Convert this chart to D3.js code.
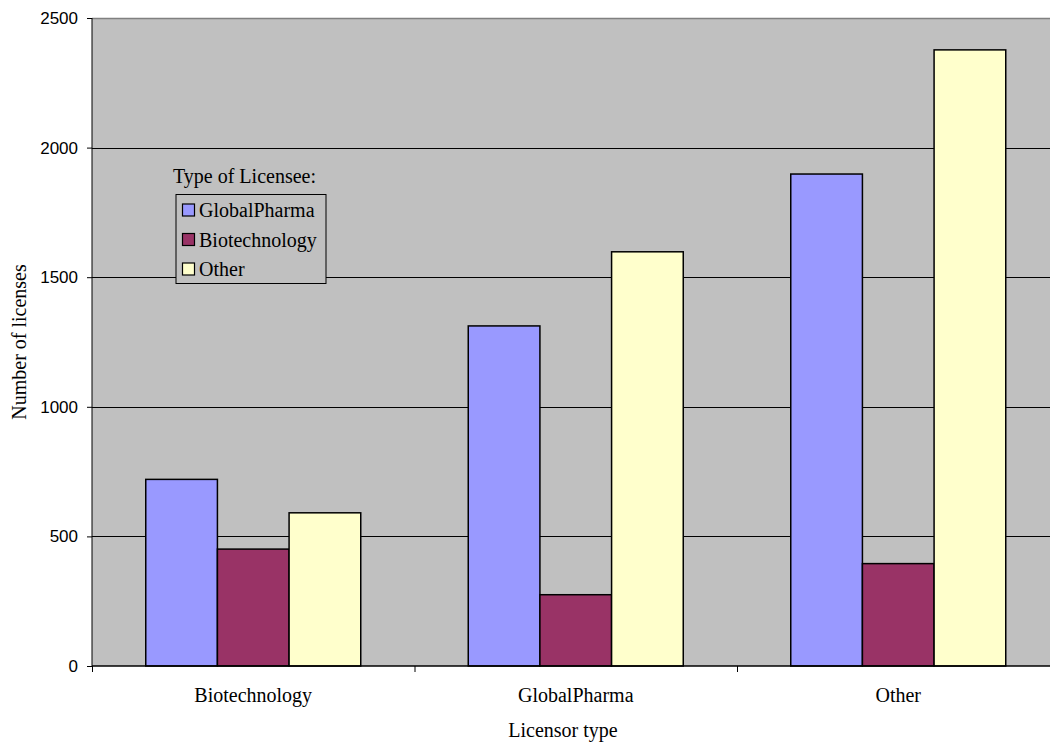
<!DOCTYPE html>
<html>
<head>
<meta charset="utf-8">
<script src="https://cdn.jsdelivr.net/npm/d3@7/dist/d3.min.js"></script>
<style>
  html, body { margin: 0; padding: 0; background: #fff; }
  svg { display: block; }
</style>
</head>
<body>
<script>
// Licensing counts by licensor type (groups) and licensee type (series)
const categories = ["Biotechnology", "GlobalPharma", "Other"];
const seriesNames = ["GlobalPharma", "Biotechnology", "Other"];
const seriesColors = ["#9999ff", "#993366", "#ffffcc"];
const globalPharmaValues = [720, 1312, 1898];
const biotechnologyValues = [451, 275, 395];
const otherValues = [591, 1598, 2377];
const yTicks = [0, 500, 1000, 1500, 2000, 2500];

const seriesValues = [globalPharmaValues, biotechnologyValues, otherValues];

const W = 1050, H = 742;
const margin = { left: 92, top: 18, bottom: 76 };
const plotW = 967.5;
const plotH = H - margin.top - margin.bottom;

const serif = "'Liberation Serif', 'Times New Roman', serif";
const sans = "'Liberation Sans', Arial, sans-serif";

const svg = d3.select("body").append("svg")
  .attr("width", W).attr("height", H);

const x = d3.scaleBand().domain(categories)
  .range([margin.left, margin.left + plotW]).paddingInner(0).paddingOuter(0);
// three bars per group with half a bar-width gap on each side
const xInner = d3.scaleBand().domain(seriesNames)
  .range([0, x.bandwidth()]).paddingInner(0).paddingOuter(0.75);
const y = d3.scaleLinear().domain([0, 2500]).range([margin.top + plotH, margin.top]);

// plot background
svg.append("rect")
  .attr("x", margin.left).attr("y", margin.top)
  .attr("width", plotW).attr("height", plotH)
  .attr("fill", "#c0c0c0");

// top border
svg.append("line")
  .attr("x1", margin.left).attr("x2", margin.left + plotW)
  .attr("y1", margin.top + 0.5).attr("y2", margin.top + 0.5)
  .attr("stroke", "#808080").attr("stroke-width", 1.5);

// gridlines
svg.append("g").selectAll("line")
  .data(yTicks.filter(d => d > 0 && d < 2500))
  .join("line")
  .attr("x1", margin.left).attr("x2", margin.left + plotW)
  .attr("y1", d => Math.round(y(d)) + 0.5).attr("y2", d => Math.round(y(d)) + 0.5)
  .attr("stroke", "#000").attr("stroke-width", 1);

// bars
const groups = svg.append("g").selectAll("g")
  .data(categories)
  .join("g")
  .attr("transform", d => `translate(${x(d)},0)`);

groups.selectAll("rect")
  .data((c, ci) => seriesNames.map((s, si) => ({ s, si, v: seriesValues[si][ci] })))
  .join("rect")
  .attr("x", d => xInner(d.s))
  .attr("y", d => y(d.v))
  .attr("width", xInner.bandwidth())
  .attr("height", d => y(0) - y(d.v))
  .attr("fill", d => seriesColors[d.si])
  .attr("stroke", "#000")
  .attr("stroke-width", 1.5);

// y axis
const yAxis = d3.axisLeft(y).tickValues(yTicks).tickFormat(d3.format("d"))
  .tickSize(5).tickPadding(9);
const gy = svg.append("g")
  .attr("transform", `translate(${margin.left},0)`)
  .call(yAxis);
gy.select(".domain").attr("stroke", "#000").attr("d", `M0,${margin.top}V${margin.top + plotH}`);
gy.selectAll(".tick line").attr("stroke", "#000");
gy.selectAll(".tick text")
  .attr("font-family", sans)
  .attr("font-size", 17).attr("fill", "#000");

// x axis
const gx = svg.append("g")
  .attr("transform", `translate(0,${margin.top + plotH})`);
gx.append("line")
  .attr("x1", margin.left).attr("x2", margin.left + plotW)
  .attr("y1", 0).attr("y2", 0)
  .attr("stroke", "#000").attr("stroke-width", 1.5);
gx.selectAll("line.sep")
  .data(categories)
  .join("line").attr("class", "sep")
  .attr("x1", d => x(d) + 0.5).attr("x2", d => x(d) + 0.5)
  .attr("y1", 0).attr("y2", 6)
  .attr("stroke", "#000");
gx.selectAll("text")
  .data(categories)
  .join("text")
  .attr("x", d => x(d) + x.bandwidth() / 2)
  .attr("y", 36)
  .attr("text-anchor", "middle")
  .attr("font-family", serif)
  .attr("font-size", 20)
  .text(d => d);

// axis titles
svg.append("text")
  .attr("x", 563).attr("y", 737)
  .attr("text-anchor", "middle")
  .attr("font-family", serif)
  .attr("font-size", 20)
  .text("Licensor type");

svg.append("text")
  .attr("transform", `translate(26,342) rotate(-90)`)
  .attr("text-anchor", "middle")
  .attr("font-family", serif)
  .attr("font-size", 20)
  .text("Number of licenses");

// legend
const legend = svg.append("g");
legend.append("text")
  .attr("x", 173).attr("y", 183)
  .attr("font-family", serif)
  .attr("font-size", 20)
  .text("Type of Licensee:");
legend.append("rect")
  .attr("x", 176).attr("y", 194.5)
  .attr("width", 150).attr("height", 89)
  .attr("fill", "#c0c0c0").attr("stroke", "#000").attr("stroke-width", 1);
const items = legend.selectAll("g.item")
  .data(seriesNames)
  .join("g").attr("class", "item")
  .attr("transform", (d, i) => `translate(0,${210 + i * 29.5})`);
items.append("rect")
  .attr("x", 182.5).attr("y", -6)
  .attr("width", 12).attr("height", 12)
  .attr("fill", (d, i) => seriesColors[i])
  .attr("stroke", "#000").attr("stroke-width", 1.2);
items.append("text")
  .attr("x", 199).attr("y", 7)
  .attr("font-family", serif)
  .attr("font-size", 20)
  .text(d => d);
</script>
</body>
</html>
